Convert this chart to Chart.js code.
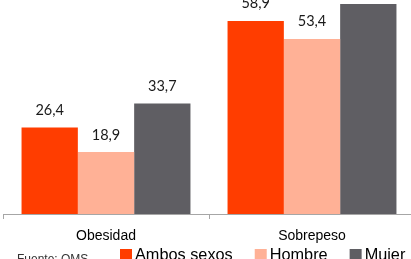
<!DOCTYPE html>
<html>
<head>
<meta charset="utf-8">
<script src="https://cdn.jsdelivr.net/npm/chart.js@4/dist/chart.umd.min.js"></script>
<style>
html,body{margin:0;padding:0;background:#fff;overflow:hidden;width:411px;height:259px;}
#wrap{position:absolute;left:0;top:0;width:420px;height:259px;}
</style>
</head>
<body>
<div id="wrap"><canvas id="c" width="420" height="259"></canvas></div>
<script>
const categories = ["Obesidad", "Sobrepeso"];
const seriesNames = ["Ambos sexos", "Hombre", "Mujer"];
const ambosSexos = [26.4, 58.9];
const hombre = [18.9, 53.4];
const mujer = [33.7, 64.1];
const seriesColors = ["#FF3D00", "#FFB196", "#5F5E63"];
const sourceNote = "Fuente: OMS";

const valueLabels = {
  id: 'valueLabels',
  afterDatasetsDraw(chart) {
    const ctx = chart.ctx;
    ctx.save();
    ctx.font = '14.5px Lato, "Open Sans", sans-serif';
    ctx.fillStyle = '#1a1a1a';
    ctx.textAlign = 'center';
    ctx.textBaseline = 'alphabetic';
    chart.data.datasets.forEach((ds, i) => {
      const meta = chart.getDatasetMeta(i);
      meta.data.forEach((el, j) => {
        const txt = ds.data[j].toFixed(1).replace('.', ',');
        ctx.fillText(txt, el.x, el.y - 12.5);
      });
    });
    ctx.restore();
  }
};

const bottomLegend = {
  id: 'bottomLegend',
  afterDraw(chart) {
    const ctx = chart.ctx;
    ctx.save();
    ctx.font = '12px "Liberation Sans", Arial, sans-serif';
    ctx.fillStyle = '#333';
    ctx.textBaseline = 'top';
    ctx.textAlign = 'left';
    ctx.fillText(sourceNote, 17, 254);
    ctx.font = '16.3px "Liberation Sans", Arial, sans-serif';
    ctx.textBaseline = 'alphabetic';
    let x = 120;
    const boxTop = 249, box = 12, baseline = 260;
    chart.data.datasets.forEach((ds) => {
      ctx.fillStyle = ds.backgroundColor;
      ctx.fillRect(x, boxTop, box, box);
      ctx.fillStyle = '#000';
      ctx.fillText(ds.label, x + box + 3, baseline);
      x += box + 3 + ctx.measureText(ds.label).width + 22;
    });
    ctx.restore();
  }
};

new Chart(document.getElementById('c'), {
  type: 'bar',
  data: {
    labels: categories,
    datasets: [
      { label: seriesNames[0], data: ambosSexos, backgroundColor: seriesColors[0] },
      { label: seriesNames[1], data: hombre, backgroundColor: seriesColors[1] },
      { label: seriesNames[2], data: mujer, backgroundColor: seriesColors[2] }
    ]
  },
  options: {
    responsive: false,
    animation: false,
    devicePixelRatio: 1,
    layout: { padding: { left: 3, right: 5, top: 0, bottom: 6 } },
    datasets: { bar: { barPercentage: 1, categoryPercentage: 0.82, borderWidth: 0 } },
    plugins: { legend: { display: false }, tooltip: { enabled: false }, title: { display: false } },
    scales: {
      x: {
        grid: { display: true, drawOnChartArea: false, drawTicks: true, tickLength: 5, color: '#a6a6a6', offset: true },
        border: { display: true, color: '#a6a6a6', width: 1 },
        ticks: { color: '#000', padding: 8.6, font: { family: '"Liberation Sans", Arial, sans-serif', size: 14 } }
      },
      y: {
        display: false,
        min: 0,
        max: 65.3
      }
    }
  },
  plugins: [valueLabels, bottomLegend]
});
</script>
</body>
</html>
